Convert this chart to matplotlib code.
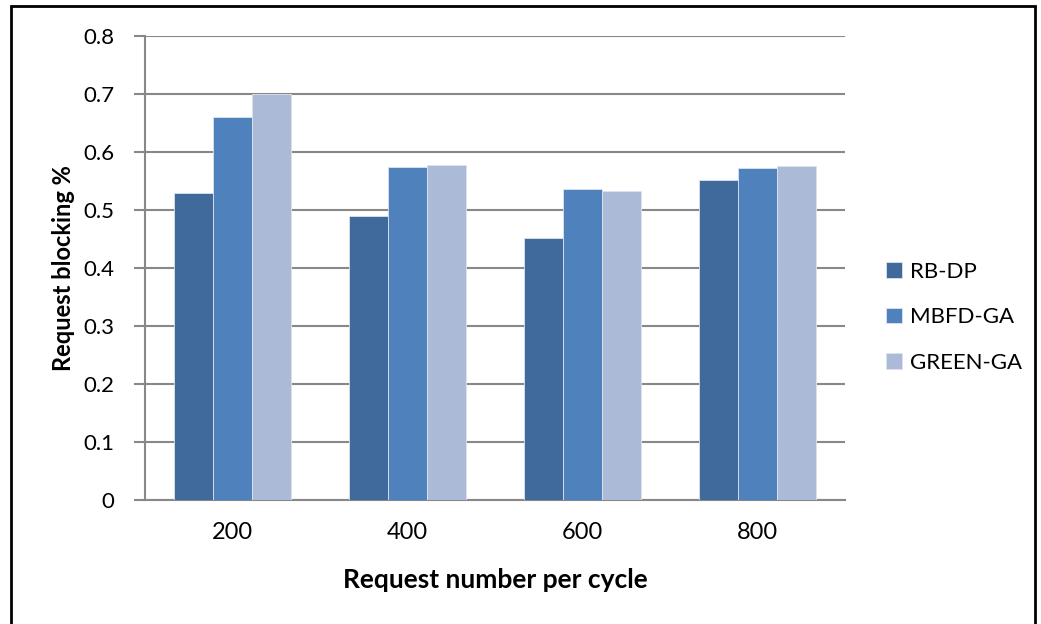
"""Request blocking per cycle, grouped bar chart."""
import numpy as np
import matplotlib
matplotlib.use('Agg')
import matplotlib.pyplot as plt
from matplotlib.patches import Rectangle

categories = ['200', '400', '600', '800']
series_names = ['RB-DP', 'MBFD-GA', 'GREEN-GA']
rb_dp = [0.53, 0.49, 0.451, 0.552]
mbfd_ga = [0.66, 0.575, 0.536, 0.572]
green_ga = [0.70, 0.577, 0.532, 0.576]
y_ticks = [0, 0.1, 0.2, 0.3, 0.4, 0.5, 0.6, 0.7, 0.8]

colors = ['#406A9C', '#4F81BD', '#AABAD7']

plt.rcParams['font.family'] = ['Lato', 'DejaVu Sans']

fig = plt.figure(figsize=(10.41, 6.24), dpi=100)
ax = fig.add_axes([145 / 1041, 1 - 500 / 624, 700 / 1041, 464 / 624])

x = np.arange(len(categories))
width = 0.222
for i, (vals, name) in enumerate(zip([rb_dp, mbfd_ga, green_ga], series_names)):
    ax.bar(x + (i - 1) * width, vals, width, color=colors[i], label=name,
           edgecolor='#DCE3EE', linewidth=0.6, zorder=3)

ax.set_xlim(-0.5, 3.5)
ax.set_ylim(0, 0.8)
ax.set_yticks(y_ticks)
ax.set_yticklabels(['0' if v == 0 else f'{v:.1f}' for v in y_ticks], fontsize=16)
ax.set_xticks(x)
ax.set_xticklabels(categories, fontsize=17)
ax.tick_params(axis='x', length=0, pad=16)
ax.tick_params(axis='y', length=8, width=1.5, color='#888888', pad=14)
ax.grid(axis='y', color='#888888', linewidth=1.5, zorder=0)
for side in ['top', 'right']:
    ax.spines[side].set_visible(False)
for side in ['left', 'bottom']:
    ax.spines[side].set_color('#888888')
    ax.spines[side].set_linewidth(1.5)

ax.set_xlabel('Request number per cycle', fontsize=19, fontweight='bold', labelpad=18)
ax.set_ylabel('Request blocking %', fontsize=17, fontweight='bold', labelpad=6)

leg = ax.legend(loc='center left', bbox_to_anchor=(1.03, 0.394), frameon=False,
                fontsize=16, handlelength=0.7, handleheight=0.7,
                handletextpad=0.4, labelspacing=1.15)

# outer border of the chart
fig.patches.append(Rectangle((11 / 1041, -0.05), 1024 / 1041, 1.05 - 6 / 624,
                             transform=fig.transFigure, fill=False,
                             edgecolor='black', linewidth=2))

plt.savefig('out.png', dpi=100)
